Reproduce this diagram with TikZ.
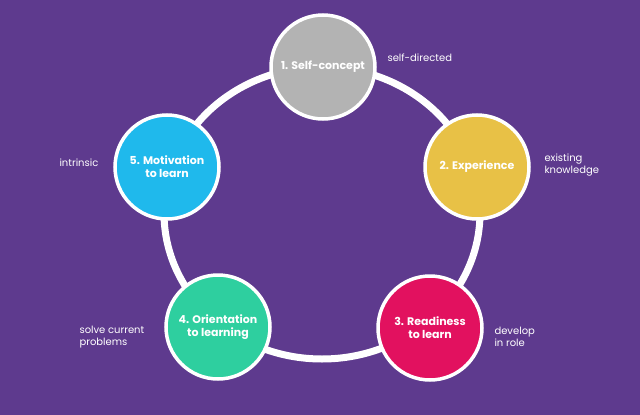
\documentclass[tikz,border=0pt]{standalone}
\usepackage{fontspec}
\setmainfont{Poppins}
\definecolor{bgpurple}{HTML}{5E3A8E}
\definecolor{cgray}{HTML}{B3B3B3}
\definecolor{cyellow}{HTML}{E8C146}
\definecolor{cred}{HTML}{E2115F}
\definecolor{cteal}{HTML}{2ECF9F}
\definecolor{ccyan}{HTML}{1FB9EC}
\tikzset{
    stage/.style={circle, draw=white, line width=3.5pt, minimum size=104pt,
        fill=#1, text=white, font=\bfseries\fontsize{11}{13}\selectfont,
        align=center, inner sep=0pt},
    note/.style={text=white, font=\fontsize{10}{12.5}\selectfont, align=left, anchor=west}
}
\begin{document}
\begin{tikzpicture}[x=1pt,y=-1pt]
    \fill[bgpurple] (0,0) rectangle (640,415);
    \useasboundingbox (0,0) rectangle (640,415);
    \draw[white, line width=7pt] (322,213) ellipse (158 and 146);
    \node[stage=cgray] (s1) at (323,67) {1. Self-concept};
    \node[stage=cyellow] (s2) at (477,167) {2. Experience};
    \node[stage=cred] (s3) at (430,328) {3. Readiness\\to learn};
    \node[stage=cteal] (s4) at (218,327) {4. Orientation\\to learning};
    \node[stage=ccyan] (s5) at (167,167) {5. Motivation\\to learn};
    \node[note] (n1) at (384,58) {self-directed};
    \node[note] (n2) at (541,165) {existing\\knowledge};
    \node[note] (n3) at (491,337) {develop\\in role};
    \node[note] (n4) at (76,337) {solve current\\problems};
    \node[note] (n5) at (56,163) {intrinsic};
\end{tikzpicture}
\end{document}
